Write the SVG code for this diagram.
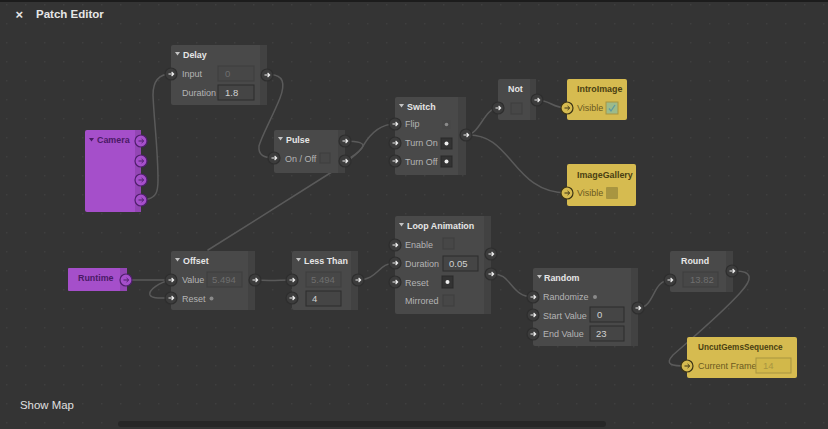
<svg xmlns="http://www.w3.org/2000/svg" width="828" height="429" viewBox="0 0 828 429">
<style>
text{font-family:"Liberation Sans",Arial,sans-serif;font-size:9px}
.t{font-weight:700;fill:#e6e6e6;font-size:8.900px}
.l{fill:#b4b4b4}
.v{fill:#d2d2d2;font-size:9.500px}
.dim{fill:#6e6e6e;font-size:9.500px}
.n{fill:#494949}
.st{fill:#424242}
.ty{fill:#4a3f12;font-weight:700;font-size:8.900px}
.ly{fill:#6b5a20}
.tp{fill:#4a1a66;font-weight:700;font-size:8.900px}
.c{fill:none;stroke:#5a5a5a;stroke-width:1.500;stroke-linecap:round}
.f{fill:#454545;stroke:#2d2d2d}
.fd{fill:#474747;stroke:#3e3e3e}
.tri{fill:#c4c4c4}
</style>
<defs>
<pattern id="dots" width="19" height="19" patternUnits="userSpaceOnUse" x="6" y="4"><rect x="0" y="0" width="1.400" height="1.400" fill="#3f3f3f"/></pattern>
<g id="p"><circle r="6" fill="#3c3c3c" stroke="#2e2e2e" stroke-width="1.200"/><path d="M-2.500 0H2.500M0.600-2L2.700 0L0.600 2" fill="none" stroke="#eee" stroke-width="1.100"/></g>
<g id="pp"><circle r="6" fill="#a54fca" stroke="#4f1f6c" stroke-width="1.200"/><path d="M-2.500 0H2.500M0.600-2L2.700 0L0.600 2" fill="none" stroke="#4f1f6c" stroke-width="1"/></g>
<g id="py"><circle r="6" fill="#d6bb50" stroke="#3c3415" stroke-width="1.200"/><path d="M-2.500 0H2.500M0.600-2L2.700 0L0.600 2" fill="none" stroke="#3c3415" stroke-width="1"/></g>
<path id="tr" d="M0 0H5L2.500 3.500Z"/>
</defs>
<rect width="828" height="429" fill="#343434"/>
<rect width="828" height="429" fill="url(#dots)"/>
<rect width="828" height="2" fill="#1c1c1c"/>
<g id="header">
<text x="15.500" y="19" style="fill:#e6e6e6;font-size:13px;font-weight:700">×</text>
<text x="36" y="18" class="t" style="font-size:11.500px">Patch Editor</text>
</g>
<g id="connectors">
<path class="c" d="M148 199C156 197 158 192 158 180C158 150 154 120 153 95C153 80 160 74 171 74"/>
<path class="c" d="M267 75C285 73 285 85 280 98C272 118 262 135 259 146C258 155 264 158 274 158"/>
<path class="c" d="M208 250L335 170C350 160 360 152 363 146C370 134 380 124 395 124"/>
<path class="c" d="M345 141C358 141 366 143 362 148C358 153 352 157 345 161"/>
<path class="c" d="M466 135C480 135 484 108 498 108"/>
<path class="c" d="M466 135C512 132 512 193 567 193"/>
<path class="c" d="M537 100C550 100 552 108 567 108"/>
<path class="c" d="M126 280H171"/>
<path class="c" d="M171 280C160 282 148 290 150 295C152 299 160 298 171 298"/>
<path class="c" d="M255 280C270 281 280 280 292 280"/>
<path class="c" d="M358 280C378 280 378 263 395 263"/>
<path class="c" d="M491 274C512 272 510 297 533 297"/>
<path class="c" d="M638 308C655 308 652 280 670 280"/>
<path class="c" d="M732 271C755 270 752 280 740 293C720 315 690 340 673 355C664 365 672 366 687 366"/>
</g>
<g id="node-delay"><rect class="n" x="171" y="45" width="96" height="60" rx="2"/><rect class="st" x="260" y="45" width="7" height="60"/><use href="#tr" x="175" y="52" class="tri"/><text x="183" y="58" class="t">Delay</text><use href="#p" x="171" y="74"/><text x="182" y="77" class="l">Input</text><rect class="fd" x="218" y="66" width="36" height="15"/><text x="225" y="77" class="dim">0</text><text x="182" y="96" class="l">Duration</text><rect class="f" x="218" y="85" width="36" height="15"/><text x="225" y="96" class="v">1.8</text><use href="#p" x="267" y="75"/></g>
<g id="node-camera"><rect x="85" y="130" width="56" height="82" rx="2" fill="#a54fca"/><rect x="135" y="130" width="6" height="82" fill="#9346b4"/><use href="#tr" x="89" y="138" style="fill:#4a1a66"/><text x="97" y="143" class="tp">Camera</text><use href="#pp" x="141" y="141"/><use href="#pp" x="141" y="161"/><use href="#pp" x="141" y="180"/><use href="#pp" x="141" y="200"/></g>
<g id="node-pulse"><rect class="n" x="274" y="130" width="71" height="43" rx="2"/><rect class="st" x="338" y="130" width="7" height="43"/><use href="#tr" x="278" y="137" class="tri"/><text x="286" y="143" class="t">Pulse</text><use href="#p" x="274" y="158"/><text x="285" y="162" class="l">On / Off</text><rect class="fd" x="320" y="153" width="10" height="10"/><use href="#p" x="345" y="141"/><use href="#p" x="345" y="161"/></g>
<g id="node-switch"><rect class="n" x="395" y="97" width="71" height="78" rx="2"/><rect class="st" x="458" y="97" width="8" height="78"/><use href="#tr" x="399" y="104" class="tri"/><text x="407" y="110" class="t">Switch</text><use href="#p" x="395" y="124"/><text x="405" y="127" class="l">Flip</text><rect x="442" y="120" width="9" height="9" fill="#474747"/><circle cx="446.500" cy="124.500" r="1.800" fill="#8a8a8a"/><use href="#p" x="395" y="143"/><text x="405" y="146" class="l">Turn On</text><rect x="441" y="138" width="11" height="11" fill="#333" stroke="#2a2a2a"/><circle cx="446.500" cy="143.500" r="2" fill="#eee"/><use href="#p" x="395" y="161"/><text x="405" y="165" class="l">Turn Off</text><rect x="441" y="156" width="11" height="11" fill="#333" stroke="#2a2a2a"/><circle cx="446.500" cy="161.500" r="2" fill="#eee"/><use href="#p" x="466" y="135"/></g>
<g id="node-not"><rect class="n" x="498" y="79" width="38" height="41" rx="2"/><rect class="st" x="530" y="79" width="6" height="41"/><text x="508" y="92" class="t">Not</text><rect class="fd" x="511" y="103" width="11" height="11"/><use href="#p" x="498" y="108"/><use href="#p" x="537" y="100"/></g>
<g id="node-introimage"><rect x="567" y="79" width="60" height="41" rx="2" fill="#d6bb50"/><text x="577" y="92" class="ty">IntroImage</text><use href="#py" x="567" y="108"/><text x="577" y="111" class="ly">Visible</text><rect x="606" y="102" width="12" height="12" fill="#9dbb8a" stroke="#a89540"/><path d="M609 108.500L611 111L615 105" fill="none" stroke="#5f9aa0" stroke-width="1.300"/></g>
<g id="node-imagegallery"><rect x="567" y="164" width="69" height="42" rx="2" fill="#d6bb50"/><text x="577" y="178" class="ty">ImageGallery</text><use href="#py" x="567" y="193"/><text x="577" y="196" class="ly">Visible</text><rect x="606" y="187" width="12" height="12" rx="1" fill="#a89540"/></g>
<g id="node-runtime"><rect x="68" y="268" width="59" height="23" rx="1" fill="#a54fca"/><rect x="120" y="268" width="7" height="23" fill="#9346b4"/><text x="78" y="281" class="tp">Runtime</text><use href="#pp" x="126" y="280"/></g>
<g id="node-offset"><rect class="n" x="171" y="251" width="84" height="59" rx="2"/><rect class="st" x="248" y="251" width="7" height="59"/><use href="#tr" x="175" y="258" class="tri"/><text x="183" y="264" class="t">Offset</text><use href="#p" x="171" y="280"/><text x="182" y="283" class="l">Value</text><rect class="fd" x="207" y="272" width="35" height="15"/><text x="212" y="283" class="dim">5.494</text><use href="#p" x="171" y="298"/><text x="182" y="302" class="l">Reset</text><circle cx="211.500" cy="298.500" r="2" fill="#8a8a8a"/><use href="#p" x="255" y="280"/></g>
<g id="node-lessthan"><rect class="n" x="292" y="251" width="66" height="59" rx="2"/><rect class="st" x="351" y="251" width="7" height="59"/><use href="#tr" x="296" y="258" class="tri"/><text x="304" y="264" class="t">Less Than</text><use href="#p" x="292" y="280"/><rect class="fd" x="306" y="272" width="35" height="15"/><text x="311" y="283" class="dim">5.494</text><use href="#p" x="292" y="298"/><rect class="f" x="306" y="291" width="35" height="15"/><text x="312" y="302" class="v">4</text><use href="#p" x="358" y="280"/></g>
<g id="node-loop"><rect class="n" x="395" y="216" width="96" height="98" rx="2"/><rect class="st" x="484" y="216" width="7" height="98"/><use href="#tr" x="399" y="223" class="tri"/><text x="407" y="229" class="t">Loop Animation</text><use href="#p" x="395" y="245"/><text x="405" y="248" class="l">Enable</text><rect class="fd" x="443" y="238" width="11" height="11"/><use href="#p" x="395" y="263"/><text x="405" y="267" class="l">Duration</text><rect class="f" x="443" y="256" width="35" height="15"/><text x="449" y="267" class="v">0.05</text><use href="#p" x="395" y="282"/><text x="405" y="286" class="l">Reset</text><rect x="442" y="276" width="11" height="12" fill="#333" stroke="#2a2a2a"/><circle cx="447.500" cy="282" r="2" fill="#eee"/><text x="405" y="304" class="l">Mirrored</text><rect class="fd" x="443" y="295" width="11" height="11"/><use href="#p" x="491" y="254"/><use href="#p" x="491" y="274"/></g>
<g id="node-random"><rect class="n" x="533" y="268" width="105" height="78" rx="2"/><rect class="st" x="631" y="268" width="7" height="78"/><use href="#tr" x="537" y="275" class="tri"/><text x="544" y="281" class="t">Random</text><use href="#p" x="533" y="297"/><text x="543" y="300" class="l">Randomize</text><circle cx="595" cy="297" r="2" fill="#8a8a8a"/><use href="#p" x="533" y="315"/><text x="543" y="319" class="l">Start Value</text><rect class="f" x="590" y="307" width="34" height="15"/><text x="597" y="318" class="v">0</text><use href="#p" x="533" y="334"/><text x="543" y="337" class="l">End Value</text><rect class="f" x="590" y="326" width="34" height="15"/><text x="596" y="337" class="v">23</text><use href="#p" x="638" y="308"/></g>
<g id="node-round"><rect class="n" x="670" y="251" width="63" height="41" rx="2"/><rect class="st" x="726" y="251" width="7" height="41"/><text x="681" y="264" class="t">Round</text><use href="#p" x="670" y="280"/><rect class="fd" x="683" y="272" width="35" height="15"/><text x="690" y="283" class="dim">13.82</text><use href="#p" x="732" y="271"/></g>
<g id="node-uncut"><rect x="687" y="337" width="110" height="41" rx="2" fill="#d6bb50"/><text x="698" y="350" class="ty" style="font-size:8.200px">UncutGemsSequence</text><use href="#py" x="687" y="366"/><text x="698" y="369" class="ly">Current Frame</text><rect x="756" y="358" width="35" height="15" fill="#d2b84a" stroke="#a89540"/><text x="763" y="369" style="fill:#a89540;font-size:9.500px">14</text></g>
<g id="footer"><text x="20" y="409" style="fill:#e0e0e0;font-size:11.400px">Show Map</text><rect x="118" y="421" width="488" height="6" rx="3" fill="#272727"/></g>
</svg>
